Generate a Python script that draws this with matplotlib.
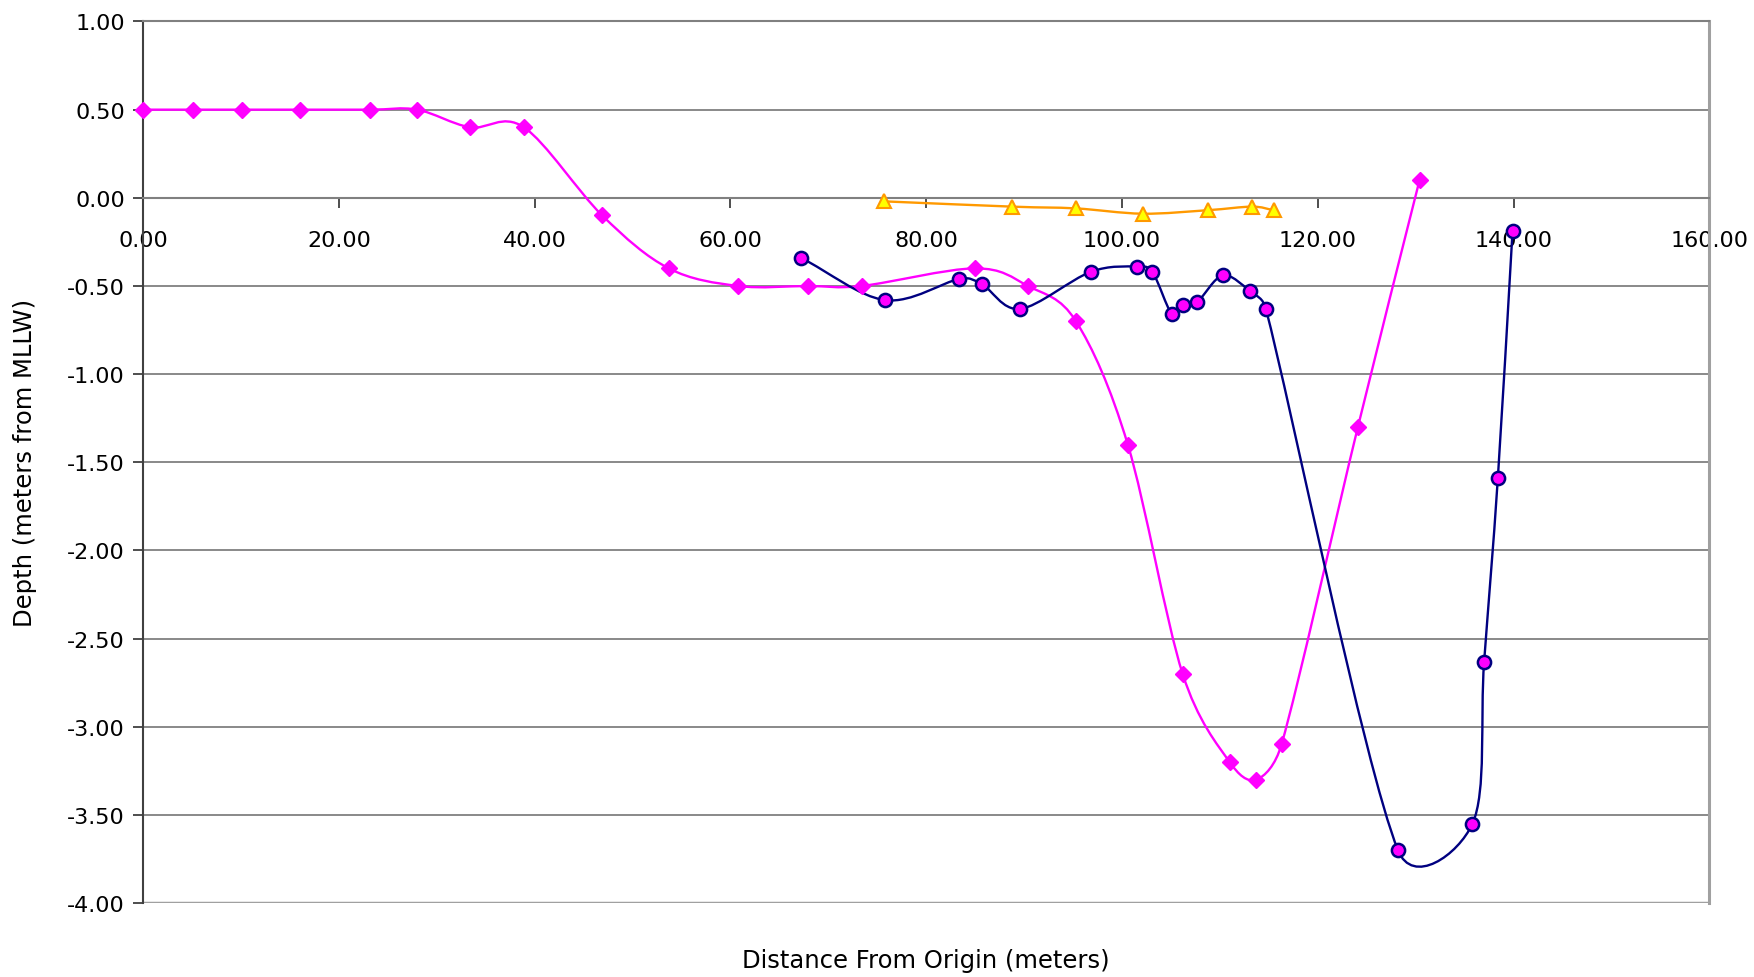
import numpy as np
import matplotlib
matplotlib.use("Agg")
import matplotlib.pyplot as plt
from matplotlib.path import Path
from matplotlib.patches import PathPatch

# ---- data ----
pink_x = [0.0, 5.1, 10.1, 16.0, 23.2, 28.0, 33.4, 38.9, 46.9, 53.7, 60.8, 67.9, 73.4,
          85.0, 90.4, 95.3, 100.6, 106.2, 111.0, 113.7, 116.3, 124.1, 130.4]
pink_y = [0.5, 0.5, 0.5, 0.5, 0.5, 0.5, 0.4, 0.4, -0.1, -0.4, -0.5, -0.5, -0.5,
          -0.4, -0.5, -0.7, -1.4, -2.7, -3.2, -3.3, -3.1, -1.3, 0.1]

orange_x = [75.7, 88.8, 95.3, 102.1, 108.8, 113.3, 115.5]
orange_y = [-0.02, -0.05, -0.06, -0.09, -0.07, -0.05, -0.07]

navy_x = [67.2, 75.8, 83.4, 85.7, 89.6, 96.8, 101.5, 103.1, 105.1, 106.2, 107.7,
          110.3, 113.1, 114.7, 128.2, 135.8, 137.0, 138.4, 139.9]
navy_y = [-0.34, -0.58, -0.46, -0.49, -0.63, -0.42, -0.39, -0.42, -0.66, -0.61, -0.59,
          -0.44, -0.53, -0.63, -3.70, -3.55, -2.63, -1.59, -0.19]

x_ticks = [0, 20, 40, 60, 80, 100, 120, 140, 160]
y_ticks = [1.0, 0.5, 0.0, -0.5, -1.0, -1.5, -2.0, -2.5, -3.0, -3.5, -4.0]
x_label = "Distance From Origin (meters)"
y_label = "Depth (meters from MLLW)"


def smooth_path(ax, xs, ys):
    """Excel-like smoothed Bezier path, computed in display space."""
    trans = ax.transData
    P = trans.transform(np.column_stack([xs, ys]).astype(float))
    n = len(P)
    verts = [P[0]]
    codes = [Path.MOVETO]
    for i in range(n - 1):
        p1 = P[i]
        p2 = P[i + 1]
        p0 = P[i - 1] if i > 0 else None
        p3 = P[i + 2] if i + 2 < n else None
        d12 = np.hypot(*(p2 - p1))
        if p0 is None:
            c1 = p1 + (p2 - p1) / 3.0
        else:
            d02 = np.hypot(*(p2 - p0))
            f = min(1.0 / 6.0, d12 / (2 * d02)) if d02 > 0 else 0
            c1 = p1 + (p2 - p0) * f
        if p3 is None:
            c2 = p2 - (p2 - p1) / 3.0
        else:
            d13 = np.hypot(*(p3 - p1))
            f = min(1.0 / 6.0, d12 / (2 * d13)) if d13 > 0 else 0
            c2 = p2 - (p3 - p1) * f
        verts += [c1, c2, p2]
        codes += [Path.CURVE4] * 3
    verts = trans.inverted().transform(np.array(verts))
    return Path(verts, codes)


fig = plt.figure(figsize=(17.54, 9.78), dpi=100)
ax = fig.add_axes([0.0816, 0.0755, 0.8929, 0.9015])
ax.set_xlim(0, 160)
ax.set_ylim(-4, 1)

grid_c = "#808080"
for yv in y_ticks:
    if yv not in (0.0, -4.0):
        ax.axhline(yv, color=grid_c, lw=1.3, zorder=1)

# lines
ax.add_patch(PathPatch(smooth_path(ax, pink_x, pink_y), fill=False, edgecolor="#FF00FF", lw=1.7, zorder=3))
ax.add_patch(PathPatch(smooth_path(ax, orange_x, orange_y), fill=False, edgecolor="#FF9900", lw=1.7, zorder=3))
ax.add_patch(PathPatch(smooth_path(ax, navy_x, navy_y), fill=False, edgecolor="#000080", lw=1.7, zorder=3))

# markers
ax.plot(pink_x, pink_y, ls="none", marker="D", ms=8.5, mfc="#FF00FF", mec="#FF00FF", zorder=4, clip_on=False)
ax.plot(orange_x, orange_y, ls="none", marker="^", ms=10, mfc="#FFFF00", mec="#FF9900", mew=1.5, zorder=4, clip_on=False)
ax.plot(navy_x, navy_y, ls="none", marker="o", ms=9.5, mfc="#FF00FF", mec="#000080", mew=1.8, zorder=5, clip_on=False)

# spines
ax.spines["bottom"].set_position(("data", 0))
ax.spines["bottom"].set_color(grid_c)
ax.spines["bottom"].set_linewidth(1.5)
ax.spines["left"].set_color("#404040")
ax.spines["left"].set_linewidth(1.5)
for s in ("top", "right"):
    ax.spines[s].set_color(grid_c)
    ax.spines[s].set_linewidth(1.5)
ax.spines["right"].set_color("#A0A0A0")
ax.spines["right"].set_linewidth(2.2)
ax.axhline(-4, color="#A0A0A0", lw=2.5, zorder=2)

ax.set_xticks(x_ticks)
ax.set_xticklabels([f"{v:.2f}" for v in x_ticks])
ax.set_yticks(y_ticks)
ax.set_yticklabels([f"{v:.2f}" for v in y_ticks])
ax.tick_params(axis="x", direction="out", length=7, width=1.3, color="#404040", pad=16, labelsize=16)
ax.tick_params(axis="y", direction="out", length=7, width=1.3, color="#404040", pad=6, labelsize=16)

fig.text(0.014, 0.0755 + 0.9015 / 2, y_label, rotation=90, ha="center", va="center", fontsize=17.5)
fig.text(0.0816 + 0.8929 / 2, 0.017, x_label, ha="center", va="center", fontsize=17.5)

fig.savefig("out.png", dpi=100)
